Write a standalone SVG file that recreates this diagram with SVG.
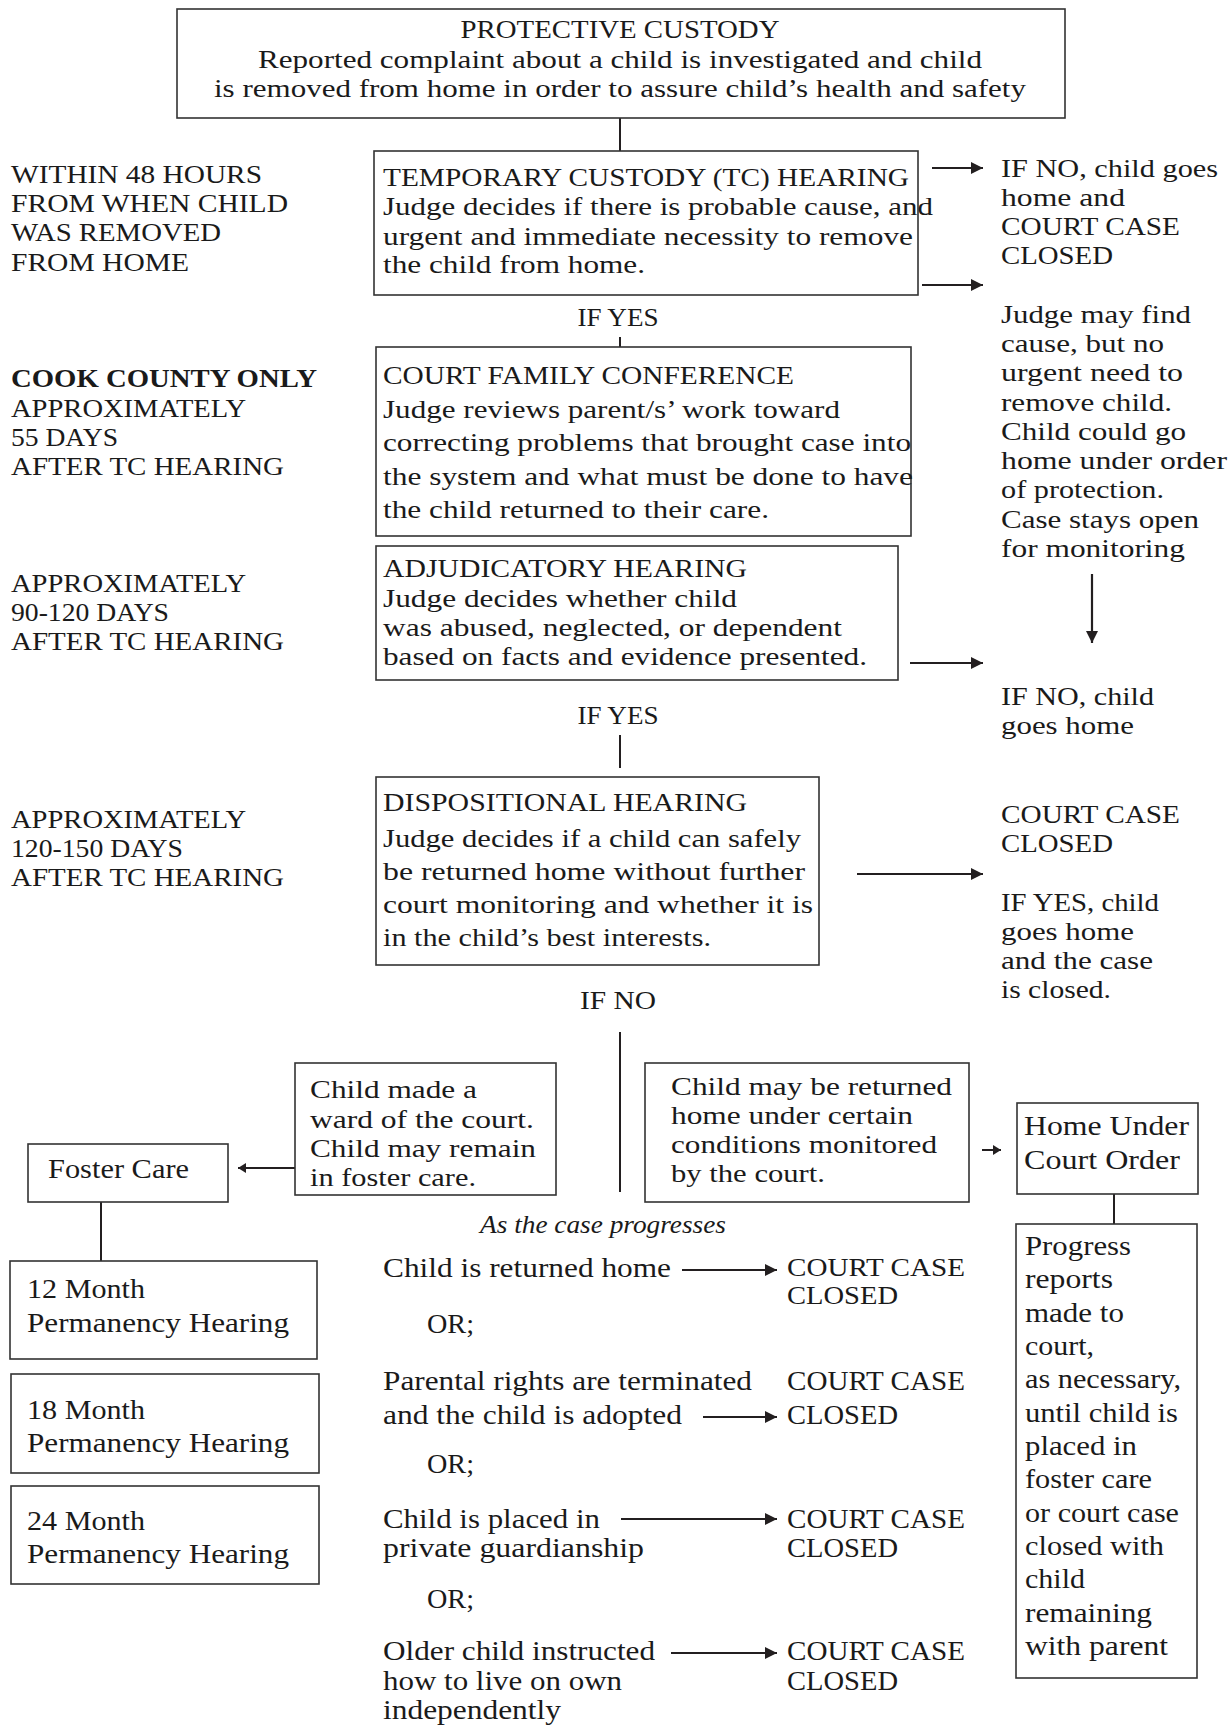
<svg xmlns="http://www.w3.org/2000/svg" width="1232" height="1725" viewBox="0 0 1232 1725">
<style>
text{font-family:"Liberation Serif","Times New Roman",serif;fill:#1a1a1a;}
.u{font-size:25px;}
.l{font-size:27px;}
.m{font-size:26px;}
.b{font-weight:bold;}
.it{font-style:italic;font-size:26px;}
.c{text-anchor:middle;}
.box{fill:#fff;stroke:#333;stroke-width:1.6;}
.ln{stroke:#231f20;stroke-width:2;fill:none;}
.ar{stroke:#231f20;stroke-width:2.2;fill:none;marker-end:url(#ah);}
.ars{stroke:#231f20;stroke-width:2;fill:none;marker-end:url(#ahs);}
</style>
<defs>
<marker id="ah" markerUnits="userSpaceOnUse" markerWidth="13" markerHeight="14" refX="12" refY="7" orient="auto"><path d="M0,1 L12,7 L0,13 z" fill="#231f20"/></marker>
<marker id="ahs" markerUnits="userSpaceOnUse" markerWidth="10" markerHeight="12" refX="8" refY="6" orient="auto"><path d="M0,1 L8,6 L0,11 z" fill="#231f20"/></marker>
</defs>
<rect width="1232" height="1725" fill="#fff"/>

<g id="connectors">
<line class="ln" x1="620" y1="118" x2="620" y2="151"/>
<line class="ar" x1="932" y1="168" x2="983" y2="168"/>
<line class="ar" x1="922" y1="285" x2="983" y2="285"/>
<line class="ln" x1="620" y1="337" x2="620" y2="347"/>
<line class="ar" x1="1092" y1="574" x2="1092" y2="643"/>
<line class="ar" x1="910" y1="663" x2="983" y2="663"/>
<line class="ln" x1="620" y1="735" x2="620" y2="768"/>
<line class="ar" x1="857" y1="874" x2="983" y2="874"/>
<line class="ln" x1="620" y1="1032" x2="620" y2="1192" stroke-width="2.5"/>
<line class="ars" x1="295" y1="1168" x2="238" y2="1168"/>
<line class="ln" x1="101" y1="1202" x2="101" y2="1261"/>
<line class="ars" x1="982" y1="1150" x2="1001" y2="1150"/>
<line class="ln" x1="1114" y1="1194" x2="1114" y2="1224"/>
<line class="ar" x1="682" y1="1270" x2="777" y2="1270"/>
<line class="ar" x1="703" y1="1417" x2="777" y2="1417"/>
<line class="ar" x1="621" y1="1519" x2="777" y2="1519"/>
<line class="ar" x1="671" y1="1653" x2="777" y2="1653"/>
</g>

<g id="protective-custody">
<rect class="box" x="177" y="9" width="888" height="109"/>
<text class="u c" x="620" y="38" textLength="319" lengthAdjust="spacingAndGlyphs">PROTECTIVE CUSTODY</text>
<text class="u c" x="620" y="68" textLength="724" lengthAdjust="spacingAndGlyphs">Reported complaint about a child is investigated and child</text>
<text class="u c" x="620" y="97" textLength="812" lengthAdjust="spacingAndGlyphs">is removed from home in order to assure child’s health and safety</text>
</g>

<g id="label-48-hours">
<text class="u" x="11" y="183" textLength="251" lengthAdjust="spacingAndGlyphs">WITHIN 48 HOURS</text>
<text class="u" x="11" y="212" textLength="277" lengthAdjust="spacingAndGlyphs">FROM WHEN CHILD</text>
<text class="u" x="11" y="241" textLength="210" lengthAdjust="spacingAndGlyphs">WAS REMOVED</text>
<text class="u" x="11" y="271" textLength="178" lengthAdjust="spacingAndGlyphs">FROM HOME</text>
</g>

<g id="tc-hearing">
<rect class="box" x="374" y="151" width="544" height="144"/>
<text class="u" x="383" y="186" textLength="526" lengthAdjust="spacingAndGlyphs">TEMPORARY CUSTODY (TC) HEARING</text>
<text class="u" x="383" y="215" textLength="550" lengthAdjust="spacingAndGlyphs">Judge decides if there is probable cause, and</text>
<text class="u" x="383" y="245" textLength="530" lengthAdjust="spacingAndGlyphs">urgent and immediate necessity to remove</text>
<text class="u" x="383" y="273" textLength="262" lengthAdjust="spacingAndGlyphs">the child from home.</text>
</g>

<g id="outcome-tc-no">
<text class="u" x="1001" y="177" textLength="217" lengthAdjust="spacingAndGlyphs">IF NO, child goes</text>
<text class="u" x="1001" y="206" textLength="124" lengthAdjust="spacingAndGlyphs">home and</text>
<text class="u" x="1001" y="235" textLength="179" lengthAdjust="spacingAndGlyphs">COURT CASE</text>
<text class="u" x="1001" y="264" textLength="112" lengthAdjust="spacingAndGlyphs">CLOSED</text>
</g>

<text class="u c" x="618" y="326" textLength="81" lengthAdjust="spacingAndGlyphs">IF YES</text>

<g id="outcome-tc-cause">
<text class="u" x="1001" y="323" textLength="190" lengthAdjust="spacingAndGlyphs">Judge may find</text>
<text class="u" x="1001" y="352" textLength="163" lengthAdjust="spacingAndGlyphs">cause, but no</text>
<text class="u" x="1001" y="381" textLength="182" lengthAdjust="spacingAndGlyphs">urgent need to</text>
<text class="u" x="1001" y="411" textLength="171" lengthAdjust="spacingAndGlyphs">remove child.</text>
<text class="u" x="1001" y="440" textLength="185" lengthAdjust="spacingAndGlyphs">Child could go</text>
<text class="u" x="1001" y="469" textLength="226" lengthAdjust="spacingAndGlyphs">home under order</text>
<text class="u" x="1001" y="498" textLength="163" lengthAdjust="spacingAndGlyphs">of protection.</text>
<text class="u" x="1001" y="528" textLength="198" lengthAdjust="spacingAndGlyphs">Case stays open</text>
<text class="u" x="1001" y="557" textLength="184" lengthAdjust="spacingAndGlyphs">for monitoring</text>
</g>

<g id="label-cook-county">
<text class="u b" x="11" y="387" textLength="306" lengthAdjust="spacingAndGlyphs">COOK COUNTY ONLY</text>
<text class="u" x="11" y="417" textLength="235" lengthAdjust="spacingAndGlyphs">APPROXIMATELY</text>
<text class="u" x="11" y="446" textLength="107" lengthAdjust="spacingAndGlyphs">55 DAYS</text>
<text class="u" x="11" y="475" textLength="273" lengthAdjust="spacingAndGlyphs">AFTER TC HEARING</text>
</g>

<g id="court-family-conference">
<rect class="box" x="376" y="347" width="535" height="189"/>
<text class="u" x="383" y="384" textLength="411" lengthAdjust="spacingAndGlyphs">COURT FAMILY CONFERENCE</text>
<text class="u" x="383" y="418" textLength="457" lengthAdjust="spacingAndGlyphs">Judge reviews parent/s’ work toward</text>
<text class="u" x="383" y="451" textLength="528" lengthAdjust="spacingAndGlyphs">correcting problems that brought case into</text>
<text class="u" x="383" y="485" textLength="530" lengthAdjust="spacingAndGlyphs">the system and what must be done to have</text>
<text class="u" x="383" y="518" textLength="386" lengthAdjust="spacingAndGlyphs">the child returned to their care.</text>
</g>

<g id="label-90-120">
<text class="u" x="11" y="592" textLength="235" lengthAdjust="spacingAndGlyphs">APPROXIMATELY</text>
<text class="u" x="11" y="621" textLength="158" lengthAdjust="spacingAndGlyphs">90-120 DAYS</text>
<text class="u" x="11" y="650" textLength="273" lengthAdjust="spacingAndGlyphs">AFTER TC HEARING</text>
</g>

<g id="adjudicatory-hearing">
<rect class="box" x="376" y="546" width="522" height="134"/>
<text class="u" x="383" y="577" textLength="364" lengthAdjust="spacingAndGlyphs">ADJUDICATORY HEARING</text>
<text class="u" x="383" y="607" textLength="354" lengthAdjust="spacingAndGlyphs">Judge decides whether child</text>
<text class="u" x="383" y="636" textLength="459" lengthAdjust="spacingAndGlyphs">was abused, neglected, or dependent</text>
<text class="u" x="383" y="665" textLength="484" lengthAdjust="spacingAndGlyphs">based on facts and evidence presented.</text>
</g>

<g id="outcome-adj-no">
<text class="u" x="1001" y="705" textLength="153" lengthAdjust="spacingAndGlyphs">IF NO, child</text>
<text class="u" x="1001" y="734" textLength="133" lengthAdjust="spacingAndGlyphs">goes home</text>
</g>

<text class="u c" x="618" y="724" textLength="81" lengthAdjust="spacingAndGlyphs">IF YES</text>

<g id="label-120-150">
<text class="u" x="11" y="828" textLength="235" lengthAdjust="spacingAndGlyphs">APPROXIMATELY</text>
<text class="u" x="11" y="857" textLength="172" lengthAdjust="spacingAndGlyphs">120-150 DAYS</text>
<text class="u" x="11" y="886" textLength="273" lengthAdjust="spacingAndGlyphs">AFTER TC HEARING</text>
</g>

<g id="dispositional-hearing">
<rect class="box" x="376" y="777" width="443" height="188"/>
<text class="u" x="383" y="811" textLength="364" lengthAdjust="spacingAndGlyphs">DISPOSITIONAL HEARING</text>
<text class="u" x="383" y="847" textLength="418" lengthAdjust="spacingAndGlyphs">Judge decides if a child can safely</text>
<text class="u" x="383" y="880" textLength="422" lengthAdjust="spacingAndGlyphs">be returned home without further</text>
<text class="u" x="383" y="913" textLength="430" lengthAdjust="spacingAndGlyphs">court monitoring and whether it is</text>
<text class="u" x="383" y="946" textLength="328" lengthAdjust="spacingAndGlyphs">in the child’s best interests.</text>
</g>

<g id="outcome-disp">
<text class="u" x="1001" y="823" textLength="179" lengthAdjust="spacingAndGlyphs">COURT CASE</text>
<text class="u" x="1001" y="852" textLength="112" lengthAdjust="spacingAndGlyphs">CLOSED</text>
<text class="u" x="1001" y="911" textLength="158" lengthAdjust="spacingAndGlyphs">IF YES, child</text>
<text class="u" x="1001" y="940" textLength="133" lengthAdjust="spacingAndGlyphs">goes home</text>
<text class="u" x="1001" y="969" textLength="152" lengthAdjust="spacingAndGlyphs">and the case</text>
<text class="u" x="1001" y="998" textLength="110" lengthAdjust="spacingAndGlyphs">is closed.</text>
</g>

<text class="u c" x="618" y="1009" textLength="76" lengthAdjust="spacingAndGlyphs">IF NO</text>

<g id="ward-of-court">
<rect class="box" x="295" y="1063" width="261" height="132"/>
<text class="m" x="310" y="1098" textLength="167" lengthAdjust="spacingAndGlyphs">Child made a</text>
<text class="m" x="310" y="1128" textLength="224" lengthAdjust="spacingAndGlyphs">ward of the court.</text>
<text class="m" x="310" y="1157" textLength="226" lengthAdjust="spacingAndGlyphs">Child may remain</text>
<text class="m" x="310" y="1186" textLength="166" lengthAdjust="spacingAndGlyphs">in foster care.</text>
</g>

<g id="foster-care">
<rect class="box" x="28" y="1144" width="200" height="58"/>
<text class="l" x="48" y="1178" textLength="141" lengthAdjust="spacingAndGlyphs">Foster Care</text>
</g>

<g id="permanency-12">
<rect class="box" x="10" y="1261" width="307" height="98"/>
<text class="l" x="27" y="1298" textLength="118" lengthAdjust="spacingAndGlyphs">12 Month</text>
<text class="l" x="27" y="1332" textLength="262" lengthAdjust="spacingAndGlyphs">Permanency Hearing</text>
</g>

<g id="permanency-18">
<rect class="box" x="11" y="1374" width="308" height="99"/>
<text class="l" x="27" y="1419" textLength="118" lengthAdjust="spacingAndGlyphs">18 Month</text>
<text class="l" x="27" y="1452" textLength="262" lengthAdjust="spacingAndGlyphs">Permanency Hearing</text>
</g>

<g id="permanency-24">
<rect class="box" x="11" y="1486" width="308" height="98"/>
<text class="l" x="27" y="1530" textLength="118" lengthAdjust="spacingAndGlyphs">24 Month</text>
<text class="l" x="27" y="1563" textLength="262" lengthAdjust="spacingAndGlyphs">Permanency Hearing</text>
</g>

<g id="returned-conditions">
<rect class="box" x="645" y="1063" width="324" height="139"/>
<text class="u" x="671" y="1095" textLength="281" lengthAdjust="spacingAndGlyphs">Child may be returned</text>
<text class="u" x="671" y="1124" textLength="242" lengthAdjust="spacingAndGlyphs">home under certain</text>
<text class="u" x="671" y="1153" textLength="266" lengthAdjust="spacingAndGlyphs">conditions monitored</text>
<text class="u" x="671" y="1182" textLength="154" lengthAdjust="spacingAndGlyphs">by the court.</text>
</g>

<g id="home-under-court-order">
<rect class="box" x="1017" y="1103" width="181" height="91"/>
<text class="l" x="1024" y="1135" textLength="165" lengthAdjust="spacingAndGlyphs">Home Under</text>
<text class="l" x="1024" y="1169" textLength="156" lengthAdjust="spacingAndGlyphs">Court Order</text>
</g>

<g id="progress-reports">
<rect class="box" x="1016" y="1224" width="181" height="454"/>
<text class="l" x="1025" y="1255" textLength="106" lengthAdjust="spacingAndGlyphs">Progress</text>
<text class="l" x="1025" y="1288" textLength="88" lengthAdjust="spacingAndGlyphs">reports</text>
<text class="l" x="1025" y="1322" textLength="99" lengthAdjust="spacingAndGlyphs">made to</text>
<text class="l" x="1025" y="1355" textLength="69" lengthAdjust="spacingAndGlyphs">court,</text>
<text class="l" x="1025" y="1388" textLength="156" lengthAdjust="spacingAndGlyphs">as necessary,</text>
<text class="l" x="1025" y="1422" textLength="153" lengthAdjust="spacingAndGlyphs">until child is</text>
<text class="l" x="1025" y="1455" textLength="112" lengthAdjust="spacingAndGlyphs">placed in</text>
<text class="l" x="1025" y="1488" textLength="127" lengthAdjust="spacingAndGlyphs">foster care</text>
<text class="l" x="1025" y="1522" textLength="154" lengthAdjust="spacingAndGlyphs">or court case</text>
<text class="l" x="1025" y="1555" textLength="139" lengthAdjust="spacingAndGlyphs">closed with</text>
<text class="l" x="1025" y="1588" textLength="60" lengthAdjust="spacingAndGlyphs">child</text>
<text class="l" x="1025" y="1622" textLength="127" lengthAdjust="spacingAndGlyphs">remaining</text>
<text class="l" x="1025" y="1655" textLength="143" lengthAdjust="spacingAndGlyphs">with parent</text>
</g>

<g id="case-progresses">
<text class="it" x="480" y="1233" textLength="246" lengthAdjust="spacingAndGlyphs">As the case progresses</text>
<text class="l" x="383" y="1277" textLength="288" lengthAdjust="spacingAndGlyphs">Child is returned home</text>
<text class="u" x="787" y="1276" textLength="178" lengthAdjust="spacingAndGlyphs">COURT CASE</text>
<text class="u" x="787" y="1304" textLength="111" lengthAdjust="spacingAndGlyphs">CLOSED</text>
<text class="l" x="427" y="1333" textLength="47" lengthAdjust="spacingAndGlyphs">OR;</text>
<text class="l" x="383" y="1390" textLength="369" lengthAdjust="spacingAndGlyphs">Parental rights are terminated</text>
<text class="l" x="383" y="1424" textLength="299" lengthAdjust="spacingAndGlyphs">and the child is adopted</text>
<text class="l" x="787" y="1390" textLength="178" lengthAdjust="spacingAndGlyphs">COURT CASE</text>
<text class="l" x="787" y="1424" textLength="111" lengthAdjust="spacingAndGlyphs">CLOSED</text>
<text class="l" x="427" y="1473" textLength="47" lengthAdjust="spacingAndGlyphs">OR;</text>
<text class="l" x="383" y="1528" textLength="217" lengthAdjust="spacingAndGlyphs">Child is placed in</text>
<text class="l" x="383" y="1557" textLength="261" lengthAdjust="spacingAndGlyphs">private guardianship</text>
<text class="l" x="787" y="1528" textLength="178" lengthAdjust="spacingAndGlyphs">COURT CASE</text>
<text class="l" x="787" y="1557" textLength="111" lengthAdjust="spacingAndGlyphs">CLOSED</text>
<text class="l" x="427" y="1608" textLength="47" lengthAdjust="spacingAndGlyphs">OR;</text>
<text class="l" x="383" y="1660" textLength="272" lengthAdjust="spacingAndGlyphs">Older child instructed</text>
<text class="l" x="383" y="1690" textLength="239" lengthAdjust="spacingAndGlyphs">how to live on own</text>
<text class="l" x="383" y="1719" textLength="178" lengthAdjust="spacingAndGlyphs">independently</text>
<text class="l" x="787" y="1660" textLength="178" lengthAdjust="spacingAndGlyphs">COURT CASE</text>
<text class="l" x="787" y="1690" textLength="111" lengthAdjust="spacingAndGlyphs">CLOSED</text>
</g>
</svg>
